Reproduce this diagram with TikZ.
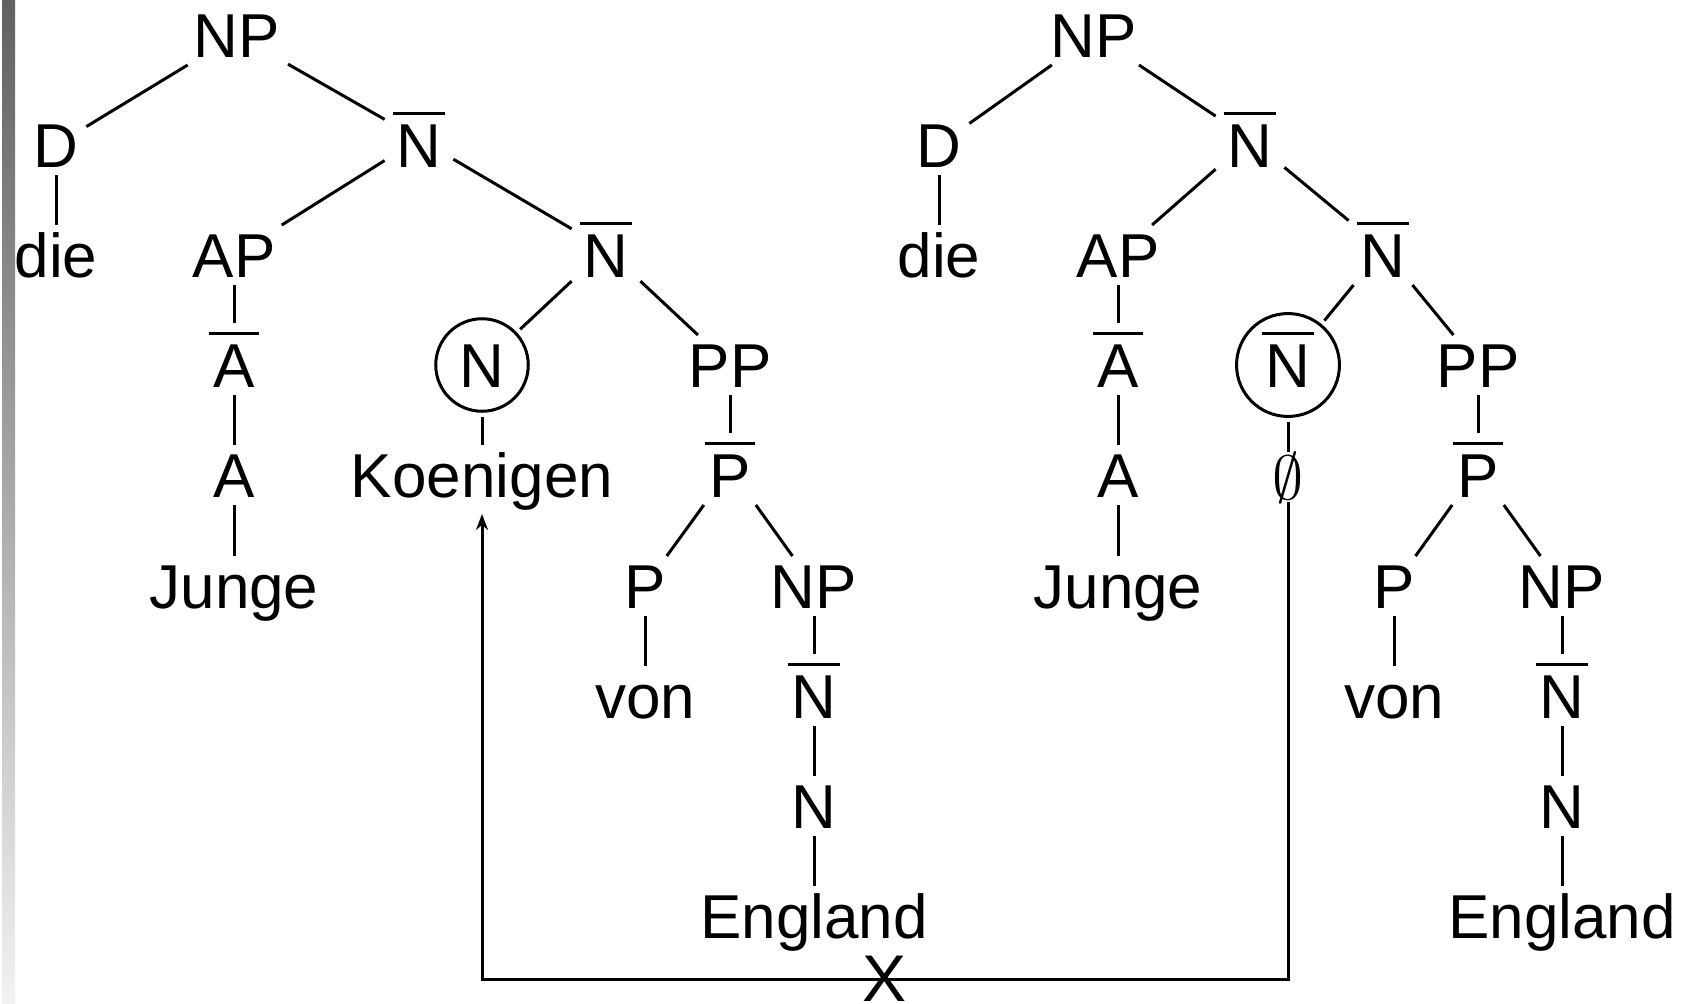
\documentclass[tikz,border=0pt]{standalone}
\usepackage{fontspec}
\setmainfont{Liberation Sans}
\usetikzlibrary{arrows.meta}

\newcommand{\olbl}[1]{\vbox{\hrule height 3.5pt\kern 9pt\hbox{\kern4pt #1\kern4pt}}}

\begin{document}
\begin{tikzpicture}[x=1pt,y=-1pt,
    lbl/.style={anchor=base,font=\fontsize{62}{74}\selectfont,inner sep=0pt,outer sep=8pt,text height=44pt,text depth=0pt},
    barred/.style={text height=56pt},
    circ/.style={circle,draw,line width=3pt,inner sep=10.5pt,outer sep=6pt},
    br/.style={line width=3pt}]
    \useasboundingbox (0,0) rectangle (1690,1004);
    \shade[top color=black!62,bottom color=black!5] (2,0) rectangle (15,1004);

    \node[lbl] (lnp) at (237,57) {NP};
    \node[lbl] (ld) at (56,167) {D} edge[br] (lnp);
    \node[lbl,barred] (lnb) at (419,167) {\olbl{N}} edge[br] (lnp);
    \node[lbl] (ldie) at (56,277) {die} edge[br] (ld);
    \node[lbl] (lap) at (234,277) {AP} edge[br] (lnb);
    \node[lbl,barred] (lnbb) at (606,277) {\olbl{N}} edge[br] (lnb);
    \node[lbl,barred] (lab) at (234,387) {\olbl{A}} edge[br] (lap);
    \node[lbl,circ] (lnc) at (482,387) {N} edge[br] (lnbb);
    \node[lbl] (lpp) at (730,387) {PP} edge[br] (lnbb);
    \node[lbl] (la) at (234,497) {A} edge[br] (lab);
    \node[lbl] (lkoe) at (482,497) {Koenigen} edge[br] (lnc);
    \node[lbl,barred] (lpb) at (730,497) {\olbl{P}} edge[br] (lpp);
    \node[lbl] (ljunge) at (234,608) {Junge} edge[br] (la);
    \node[lbl] (lp) at (645,608) {P} edge[br] (lpb);
    \node[lbl] (lnp2) at (814,608) {NP} edge[br] (lpb);
    \node[lbl] (lvon) at (645,718) {von} edge[br] (lp);
    \node[lbl,barred] (lnb3) at (814,718) {\olbl{N}} edge[br] (lnp2);
    \node[lbl] (ln) at (814,828) {N} edge[br] (lnb3);
    \node[lbl] (leng) at (814,938) {England} edge[br] (ln);

    \node[lbl] (rnp) at (1094,57) {NP};
    \node[lbl] (rd) at (939,167) {D} edge[br] (rnp);
    \node[lbl,barred] (rnb) at (1250,167) {\olbl{N}} edge[br] (rnp);
    \node[lbl] (rdie) at (939,277) {die} edge[br] (rd);
    \node[lbl] (rap) at (1118,277) {AP} edge[br] (rnb);
    \node[lbl,barred] (rnbb) at (1383,277) {\olbl{N}} edge[br] (rnb);
    \node[lbl,barred] (rab) at (1118,387) {\olbl{A}} edge[br] (rap);
    \node[lbl,circ,text height=56pt,text depth=12pt,inner sep=6pt] (rnc) at (1288,387) {\olbl{N}} edge[br] (rnbb);
    \node[lbl] (rpp) at (1478,387) {PP} edge[br] (rnbb);
    \node[lbl] (ra) at (1118,497) {A} edge[br] (rab);
    \node[lbl,outer sep=3pt] (rempty) at (1288,499) {\scalebox{2.5}{$\emptyset$}} edge[br] (rnc);
    \node[lbl,barred] (rpb) at (1478,497) {\olbl{P}} edge[br] (rpp);
    \node[lbl] (rjunge) at (1118,608) {Junge} edge[br] (ra);
    \node[lbl] (rp) at (1394,608) {P} edge[br] (rpb);
    \node[lbl] (rnp2) at (1562,608) {NP} edge[br] (rpb);
    \node[lbl] (rvon) at (1394,718) {von} edge[br] (rp);
    \node[lbl,barred] (rnb3) at (1562,718) {\olbl{N}} edge[br] (rnp2);
    \node[lbl] (rn) at (1562,828) {N} edge[br] (rnb3);
    \node[lbl] (reng) at (1562,938) {England} edge[br] (rn);

    \coordinate (kbot) at (482,514);
    \coordinate (turn) at (482,979);
    \draw[br,-{Stealth[length=16pt,width=12pt]}] (rempty.south) |- (turn) -- (kbot);
    \node[lbl,font=\fontsize{66}{78}\selectfont] (cross) at (885,1001) {X};
\end{tikzpicture}
\end{document}
